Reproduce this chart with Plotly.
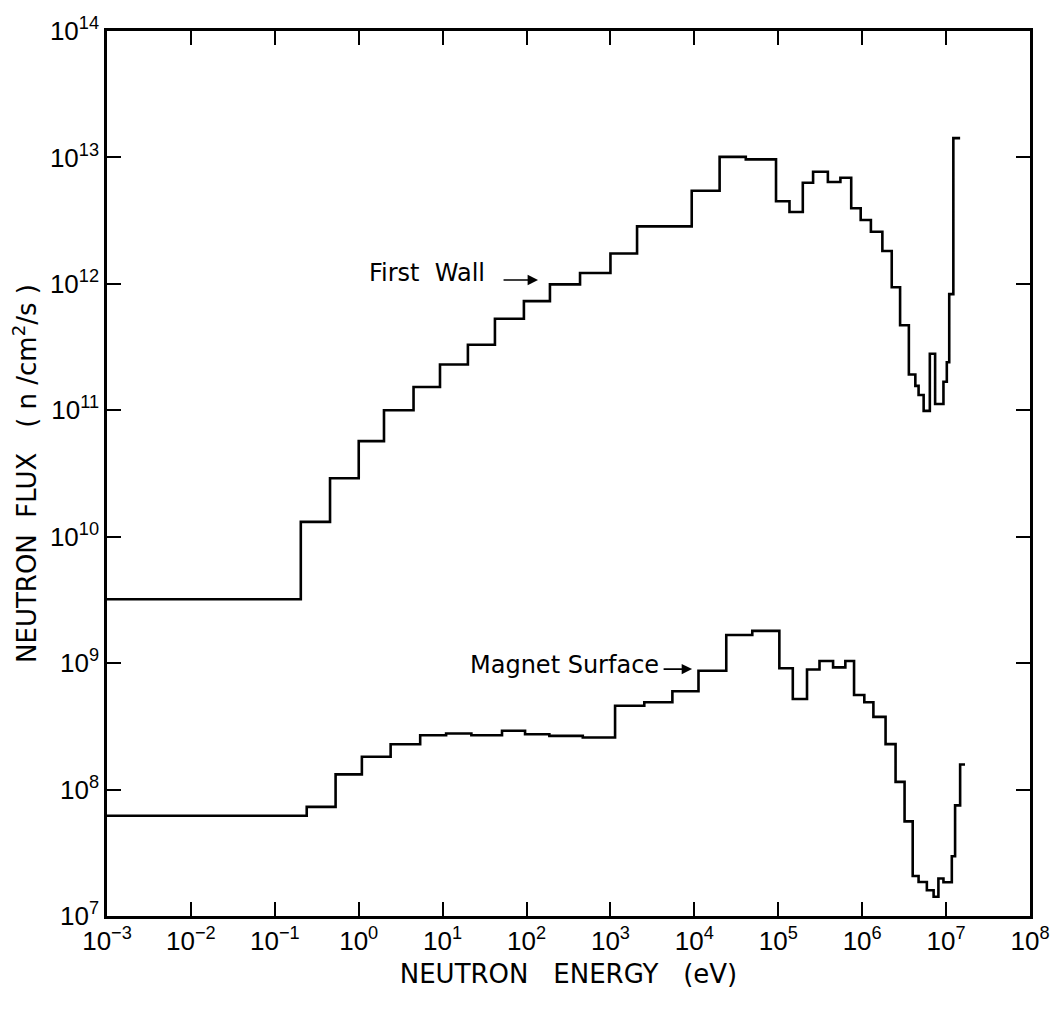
import plotly.graph_objects as go

# Group boundaries (eV) and group fluxes (n/cm^2/s), one flux per group
first_wall_edges = [1e-3, 0.204, 0.455, 1.0, 2.0, 4.5, 9.3, 20, 42, 93, 190, 434,
                    1000, 2075, 9300, 2.0e4, 4.1e4, 9.4e4, 1.36e5, 1.96e5, 2.6e5,
                    3.9e5, 5.5e5, 7.4e5, 9.6e5, 1.27e6, 1.74e6, 2.25e6, 2.83e6,
                    3.6e6, 4.3e6, 4.7e6, 5.4e6, 6.4e6, 7.4e6, 9.3e6, 1.02e7,
                    1.09e7, 1.22e7, 1.47e7]
first_wall_flux = [3.2e9, 1.31e10, 2.9e10, 5.7e10, 1.0e11, 1.53e11, 2.3e11, 3.3e11,
                   5.3e11, 7.3e11, 9.9e11, 1.22e12, 1.74e12, 2.85e12, 5.45e12,
                   1.01e13, 9.66e12, 4.5e12, 3.7e12, 6.3e12, 7.7e12, 6.4e12, 6.9e12,
                   3.96e12, 3.2e12, 2.58e12, 1.82e12, 9.4e11, 4.7e11, 1.92e11,
                   1.56e11, 1.32e11, 9.9e10, 2.8e11, 1.12e11, 1.68e11, 2.4e11,
                   8.3e11, 1.42e13]

magnet_edges = [1e-3, 0.24, 0.53, 1.09, 2.4, 5.4, 11, 22, 51, 96, 187, 468, 1135,
                2530, 5470, 1.12e4, 2.4e4, 4.9e4, 1.03e5, 1.49e5, 2.2e5, 3.1e5,
                4.5e5, 6.3e5, 8.0e5, 1.06e6, 1.36e6, 1.9e6, 2.5e6, 3.2e6, 4.0e6,
                4.7e6, 5.9e6, 7.1e6, 8.1e6, 9.3e6, 1.17e7, 1.28e7, 1.47e7, 1.68e7]
magnet_flux = [6.2e7, 7.3e7, 1.32e8, 1.82e8, 2.28e8, 2.69e8, 2.78e8, 2.69e8, 2.92e8,
               2.74e8, 2.66e8, 2.58e8, 4.6e8, 4.9e8, 6.0e8, 8.7e8, 1.67e9, 1.8e9,
               9.1e8, 5.2e8, 8.9e8, 1.04e9, 9.25e8, 1.04e9, 5.6e8, 4.9e8, 3.76e8,
               2.29e8, 1.15e8, 5.6e7, 2.07e7, 1.86e7, 1.6e7, 1.42e7, 1.98e7,
               1.85e7, 2.97e7, 7.5e7, 1.58e8]

x_tick_exponents = [-3, -2, -1, 0, 1, 2, 3, 4, 5, 6, 7, 8]
y_tick_exponents = [7, 8, 9, 10, 11, 12, 13, 14]

FONT = "DejaVu Sans"
NB = "\u00a0"


def step_xy(edges, values):
    # histogram outline: each group value held from its lower edge to its upper edge
    return list(edges), list(values) + [values[-1]]


fig = go.Figure()
for edges, flux, name in [(first_wall_edges, first_wall_flux, "First Wall"),
                          (magnet_edges, magnet_flux, "Magnet Surface")]:
    xs, ys = step_xy(edges, flux)
    fig.add_trace(go.Scatter(x=xs, y=ys, mode="lines", name=name,
                             line=dict(shape="hv", color="black", width=2.6)))


def pow_label(e):
    s = str(e).replace("-", "\u2212")
    return f"10<sup>{s}</sup>"


axis_common = dict(type="log", showgrid=False, zeroline=False, showline=True,
                   linecolor="black", linewidth=2.5, mirror="ticks", ticks="inside",
                   ticklen=14, tickwidth=1.6, tickcolor="black",
                   tickfont=dict(family="Liberation Sans", size=26, color="black"))

x_title = f"NEUTRON{NB * 3}ENERGY{NB * 3}(eV)"
y_title = f"NEUTRON{NB * 2}FLUX{NB * 3}({NB}n{NB}/cm<sup>2</sup>/s{NB})"

fig.update_xaxes(range=[-3, 8], tickvals=[10.0 ** e for e in x_tick_exponents],
                 ticktext=[pow_label(e) for e in x_tick_exponents],
                 title=dict(text=x_title,
                            font=dict(family=FONT, size=26, color="black"),
                            standoff=10),
                 **axis_common)
fig.update_yaxes(range=[7, 14], tickvals=[10.0 ** e for e in y_tick_exponents],
                 ticktext=[pow_label(e) for e in y_tick_exponents],
                 title=dict(text=y_title,
                            font=dict(family=FONT, size=26, color="black"),
                            standoff=6),
                 **axis_common)

label_font = dict(family=FONT, size=24, color="black")
fig.add_annotation(x=2.137, y=12.03, ax=-36, ay=0, text="", showarrow=True,
                   arrowhead=2, arrowsize=1.3, arrowwidth=1.6, arrowcolor="black")
fig.add_annotation(x=1.529, y=12.085, text=f"First{NB * 2}Wall", showarrow=False,
                   xanchor="right", yanchor="middle", font=label_font)
fig.add_annotation(x=3.973, y=8.953, ax=-30, ay=0, text="", showarrow=True,
                   arrowhead=2, arrowsize=1.3, arrowwidth=1.6, arrowcolor="black")
fig.add_annotation(x=3.603, y=8.984, text="Magnet Surface", showarrow=False,
                   xanchor="right", yanchor="middle", font=label_font)

fig.update_layout(width=1062, height=1011, showlegend=False,
                  paper_bgcolor="white", plot_bgcolor="white",
                  margin=dict(l=107, r=32, t=31, b=95, autoexpand=False))

fig.write_html("out.html")
